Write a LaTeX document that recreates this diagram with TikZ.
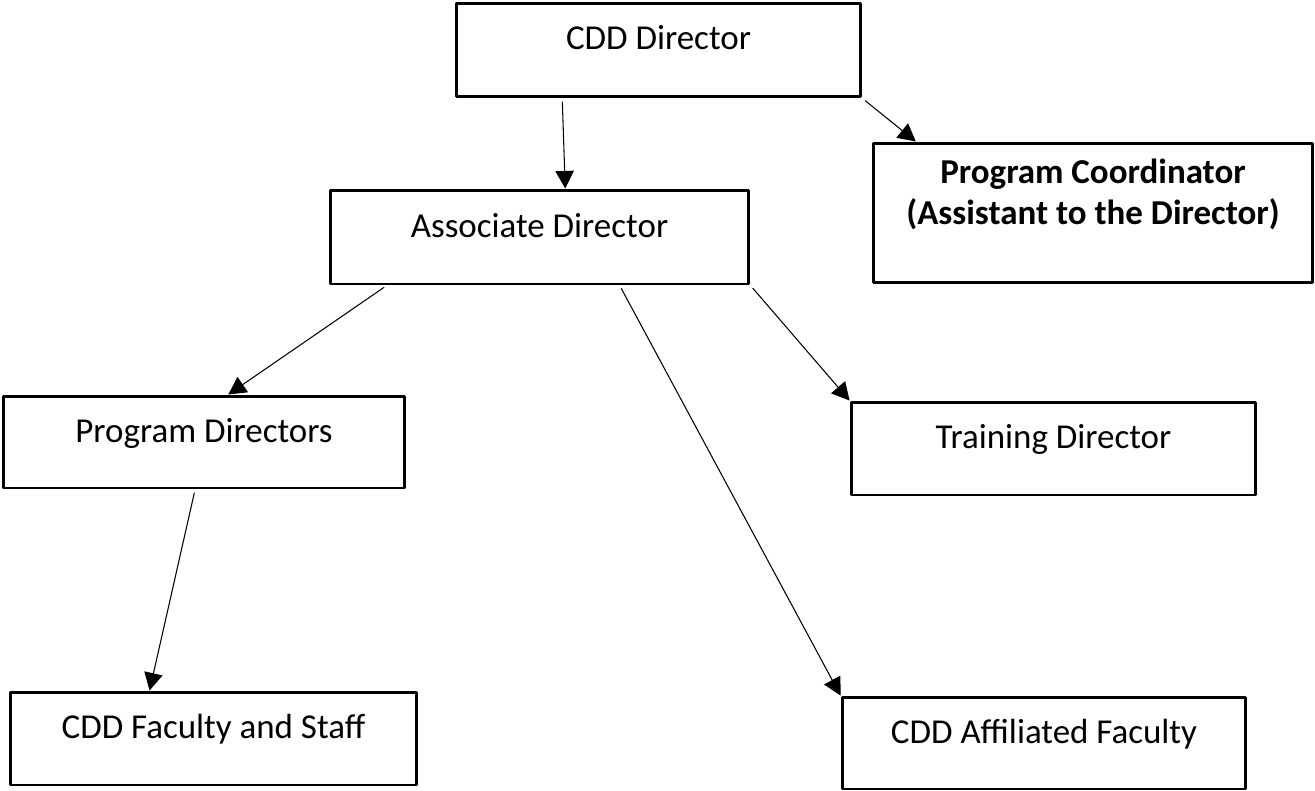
\documentclass[tikz,border=0pt]{standalone}
\usepackage{fontspec}
\setmainfont{Carlito}
\usetikzlibrary{arrows.meta,calc}

\begin{document}
\begin{tikzpicture}[
  x=0.02cm, y=-0.02cm,
  line cap=round, line join=round,
  every node/.style={font=\fontsize{19.9pt}{22.8pt}\selectfont, inner sep=0pt},
  box/.style={draw=black, line width=1.7pt, text height=0.5cm, text depth=0.5cm},
  wide/.style={draw=black, line width=1.7pt, align=center, font=\fontsize{19.9pt}{23.2pt}\selectfont\bfseries},
  link/.style={draw=black, line width=0.6pt, shorten <=2pt, -{Triangle[length=10pt,width=10.5pt]}},
]
\useasboundingbox (0,0) rectangle (1315,791);
\node[box, minimum width=8.1cm, minimum height=1.88cm] (director) at (658.5,50) {CDD Director};
\node[wide, minimum width=8.8cm, minimum height=2.8cm, text depth=0.84cm] (coord) at (1093,213) {Program Coordinator\\(Assistant to the Director)};
\node[box, minimum width=8.38cm, minimum height=1.88cm] (assoc) at (539.5,237) {Associate Director};
\node[box, minimum width=8.04cm, minimum height=1.84cm] (progdir) at (204,442) {Program Directors};
\node[box, minimum width=8.1cm, minimum height=1.86cm] (train) at (1053.5,448.5) {Training Director};
\node[box, minimum width=8.14cm, minimum height=1.86cm] (staff) at (213.5,738.5) {CDD Faculty and Staff};
\node[box, minimum width=8.08cm, minimum height=1.84cm] (affil) at (1044,743) {CDD Affiliated Faculty};
% reporting lines
\draw[link] ($(director.south west)!0.264!(director.south east)$) -- ($(assoc.north west)!0.561!(assoc.north east)$);
\draw[link] (director.south east) -- ($(coord.north west)!0.1!(coord.north east)$);
\draw[link] ($(assoc.south west)!0.138!(assoc.south east)$) -- ($(progdir.north west)!0.56!(progdir.north east)$);
\draw[link] ($(assoc.south west)!0.69!(assoc.south east)$) -- (affil.north west);
\draw[link] (assoc.south east) -- (train.north west);
\draw[link] ($(progdir.south west)!0.478!(progdir.south east)$) -- ($(staff.north west)!0.344!(staff.north east)$);
\end{tikzpicture}
\end{document}
